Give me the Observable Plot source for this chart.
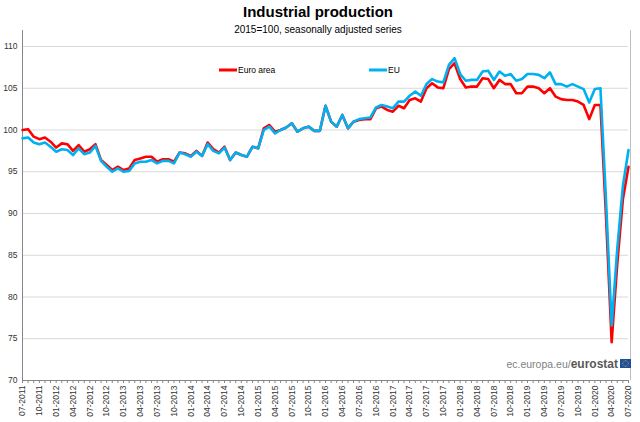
<!DOCTYPE html>
<html>
<head>
<meta charset="utf-8">
<script src="https://cdn.jsdelivr.net/npm/d3@7"></script>
<script src="https://cdn.jsdelivr.net/npm/@observablehq/plot@0.6"></script>
<style>
  html, body { margin: 0; padding: 0; background: #fff; }
  #chart svg { display: block; }
</style>
</head>
<body>
<div id="chart"></div>
<script>
// Month categories: 07-2011 ... 07-2020
const months = d3.utcMonth
  .range(new Date(Date.UTC(2011, 6, 1)), new Date(Date.UTC(2020, 7, 1)))
  .map(d3.utcFormat("%m-%Y"));
const quarterLabels = months.filter((d, i) => i % 3 === 0);
const yTicks = [70, 75, 80, 85, 90, 95, 100, 105, 110];
const gridTicks = [75, 80, 85, 90, 95, 100, 105, 110];

const euroArea = [
  100.0, 100.1, 99.2, 98.9, 99.1, 98.6, 97.9, 98.4, 98.3, 97.5, 98.2, 97.4, 97.7, 98.3,
  96.4, 95.8, 95.2, 95.6, 95.2, 95.4, 96.4, 96.6, 96.8, 96.8, 96.2, 96.5, 96.5, 96.2,
  97.3, 97.2, 96.9, 97.5, 96.9, 98.5, 97.7, 97.3, 98.0, 96.4, 97.3, 97.0, 96.8, 98.0,
  97.8, 100.2, 100.6, 99.8, 100.0, 100.3, 100.8, 99.8, 100.2, 100.4, 99.9, 99.9, 102.9,
  101.0, 100.4, 101.8, 100.2, 101.0, 101.2, 101.3, 101.3, 102.6, 102.8, 102.4, 102.2,
  102.9, 102.6, 103.6, 103.8, 103.4, 105.0, 105.6, 105.1, 105.0, 107.3, 108.0, 106.1,
  105.1, 105.2, 105.2, 106.2, 106.1, 105.0, 106.0, 105.5, 105.5, 104.4, 104.4, 105.2,
  105.2, 105.0, 104.4, 105.0, 104.0, 103.7, 103.6, 103.6, 103.4, 103.0, 101.3, 103.0,
  103.0, 89.5, 74.6, 84.0, 91.7, 95.6
];
const eu = [
  99.0, 99.1, 98.5, 98.3, 98.5, 98.0, 97.4, 97.7, 97.6, 97.0, 97.8, 97.1, 97.3, 98.1,
  96.3, 95.6, 95.0, 95.4, 95.0, 95.1, 96.0, 96.2, 96.2, 96.4, 96.0, 96.3, 96.3, 96.0,
  97.3, 97.1, 96.8, 97.4, 96.9, 98.3, 97.5, 97.2, 97.9, 96.4, 97.3, 97.0, 96.8, 98.0,
  97.8, 100.0, 100.4, 99.6, 100.0, 100.3, 100.8, 99.8, 100.2, 100.4, 99.9, 99.9, 102.9,
  101.0, 100.4, 101.8, 100.2, 101.0, 101.3, 101.4, 101.5, 102.7, 103.0, 102.8, 102.6,
  103.4, 103.4, 104.1, 104.6, 104.1, 105.5, 106.1, 105.8, 105.7, 107.8, 108.6, 106.7,
  105.9, 106.0, 106.0, 107.0, 107.1, 106.0, 107.0, 106.5, 106.7, 105.9, 106.1, 106.7,
  106.7, 106.6, 106.2, 106.9, 105.5, 105.5, 105.2, 105.5, 105.2, 104.9, 103.3, 104.9,
  105.0, 91.5, 76.6, 85.8, 93.3, 97.6
];

const rows = months.map((m, i) => ({ month: m, ea: euroArea[i], eu: eu[i] }));

const FONT = "'Liberation Sans', Arial, Helvetica, sans-serif";
const lastMonth = months[months.length - 1];

const chart = Plot.plot({
  width: 640,
  height: 422,
  marginLeft: 22,
  marginRight: 12,
  marginTop: 46,
  marginBottom: 42,
  style: { fontFamily: FONT, background: "#fff", overflow: "visible", color: "#333" },
  x: { type: "point", domain: months, padding: 0 },
  y: { domain: [70, 110] },
  marks: [
    Plot.gridY(gridTicks, { stroke: "#d9d9d9", strokeOpacity: 1, strokeWidth: 1 }),
    Plot.ruleY([70], { stroke: "#868686" }),
    Plot.ruleX([months[0]], { y1: 70, y2: 111.9, stroke: "#868686" }),
    Plot.ruleX([lastMonth], { y1: 70, y2: 111.9, stroke: "#bfbfbf", dx: 2 }),
    Plot.axisY({ ticks: yTicks, tickSize: 0, tickPadding: 5, fontSize: 8.5, fill: "#333", label: null }),
    Plot.axisX({ ticks: months, tickSize: 3, fill: "none", stroke: "#868686", label: null }),
    Plot.axisX({ ticks: quarterLabels, tickSize: 0, tickRotate: -90, tickPadding: 5, fontSize: 8.5, fill: "#333", label: null }),
    Plot.line(rows, { x: "month", y: "ea", stroke: "#ff0000", strokeWidth: 2.6 }),
    Plot.line(rows, { x: "month", y: "eu", stroke: "#00b0f0", strokeWidth: 2.6 })
  ]
});

document.getElementById("chart").append(chart);

// Title, subtitle, legend, source logo
const svg = d3.select(chart);
const deco = svg.append("g").attr("font-family", FONT);

deco.append("text").attr("x", 318).attr("y", 17).attr("text-anchor", "middle")
  .attr("font-size", 15).attr("font-weight", "bold").attr("fill", "#000")
  .text("Industrial production");
deco.append("text").attr("x", 318).attr("y", 33).attr("text-anchor", "middle")
  .attr("font-size", 10).attr("fill", "#000")
  .text("2015=100, seasonally adjusted series");

const legend = [
  { label: "Euro area", color: "#ff0000", x: 219 },
  { label: "EU", color: "#00b0f0", x: 369 }
];
legend.forEach(l => {
  deco.append("line").attr("x1", l.x).attr("x2", l.x + 18).attr("y1", 70).attr("y2", 70)
    .attr("stroke", l.color).attr("stroke-width", 3);
  deco.append("text").attr("x", l.x + 19).attr("y", 73).attr("font-size", 8.5)
    .attr("text-anchor", "start").attr("fill", "#000").text(l.label);
});

const logo = deco.append("text").attr("x", 618).attr("y", 368).attr("text-anchor", "end");
logo.append("tspan").attr("font-size", 10.5).attr("fill", "#7f7f7f").text("ec.europa.eu/");
logo.append("tspan").attr("font-size", 12).attr("font-weight", "bold").attr("fill", "#595959").text("eurostat");
deco.append("rect").attr("x", 620).attr("y", 359).attr("width", 11).attr("height", 9).attr("fill", "#1f4e9c");
for (let k = 0; k < 12; k++) {
  const a = k * Math.PI / 6;
  deco.append("circle").attr("cx", 625.5 + 2.8 * Math.cos(a)).attr("cy", 363.5 + 2.8 * Math.sin(a))
    .attr("r", 0.45).attr("fill", "#ffd200");
}
</script>
</body>
</html>
